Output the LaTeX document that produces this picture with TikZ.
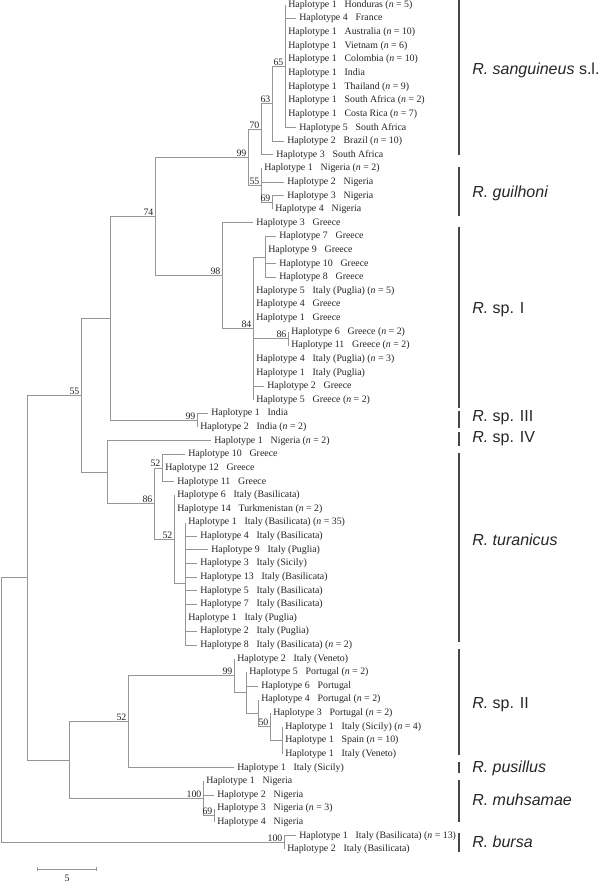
\documentclass[tikz,border=0pt]{standalone}
\usepackage{fontspec}
\setmainfont{Liberation Serif}
\newfontfamily\cladefont{Liberation Sans}
\usetikzlibrary{arrows.meta}

\definecolor{treegray}{RGB}{150,150,150}
\definecolor{bargray}{RGB}{70,70,70}
\definecolor{leafgray}{RGB}{35,35,35}

\newcommand{\hap}[2]{Haplotype #1\hspace{0.8em}#2}
\newcommand{\nn}[1]{(\textit{n} = #1)}

\begin{document}
\begin{tikzpicture}[x=0.75pt, y=-0.75pt,
  branch/.style={draw=treegray, line width=0.7pt},
  leaf/.style={anchor=west, inner xsep=2.25pt, inner ysep=0pt,
    font=\fontsize{7.4}{8}\selectfont, text=leafgray},
  boot/.style={anchor=south east, inner xsep=1pt, inner ysep=0.6pt,
    font=\fontsize{7.4}{8}\selectfont, text=leafgray},
  cladebar/.style={draw=bargray, line width=1.1pt},
  clade/.style={anchor=west, inner sep=0pt,
    font=\cladefont\fontsize{12}{14}\selectfont, text=black!85}]

  \useasboundingbox (0,0) rectangle (600,882);

  % leaves, R. sanguineus s.l.
  \node[leaf] (l1) at (285,5.0) {\hap{1}{Honduras \nn{5}}};
  \node[leaf] (l2) at (296,18.6) {\hap{4}{France}};
  \node[leaf] (l3) at (285,32.2) {\hap{1}{Australia \nn{10}}};
  \node[leaf] (l4) at (285,45.9) {\hap{1}{Vietnam \nn{6}}};
  \node[leaf] (l5) at (285,59.5) {\hap{1}{Colombia \nn{10}}};
  \node[leaf] (l6) at (285,73.1) {\hap{1}{India}};
  \node[leaf] (l7) at (285,86.7) {\hap{1}{Thailand \nn{9}}};
  \node[leaf] (l8) at (285,100.3) {\hap{1}{South Africa \nn{2}}};
  \node[leaf] (l9) at (285,114.0) {\hap{1}{Costa Rica \nn{7}}};
  \node[leaf] (l10) at (296,127.6) {\hap{5}{South Africa}};
  \node[leaf] (l11) at (284,141.2) {\hap{2}{Brazil \nn{10}}};
  \node[leaf] (l12) at (273,154.8) {\hap{3}{South Africa}};
  % R. guilhoni
  \node[leaf] (l13) at (261,168.4) {\hap{1}{Nigeria \nn{2}}};
  \node[leaf] (l14) at (284,182.1) {\hap{2}{Nigeria}};
  \node[leaf] (l15) at (284,195.7) {\hap{3}{Nigeria}};
  \node[leaf] (l16) at (272,209.3) {\hap{4}{Nigeria}};
  % R. sp. I
  \node[leaf] (l17) at (253,222.9) {\hap{3}{Greece}};
  \node[leaf] (l18) at (276,236.5) {\hap{7}{Greece}};
  \node[leaf] (l19) at (265,250.2) {\hap{9}{Greece}};
  \node[leaf] (l20) at (276,263.8) {\hap{10}{Greece}};
  \node[leaf] (l21) at (276,277.4) {\hap{8}{Greece}};
  \node[leaf] (l22) at (253,291.0) {\hap{5}{Italy (Puglia) \nn{5}}};
  \node[leaf] (l23) at (253,304.6) {\hap{4}{Greece}};
  \node[leaf] (l24) at (253,318.3) {\hap{1}{Greece}};
  \node[leaf] (l25) at (288,331.9) {\hap{6}{Greece \nn{2}}};
  \node[leaf] (l26) at (288,345.5) {\hap{11}{Greece \nn{2}}};
  \node[leaf] (l27) at (253,359.1) {\hap{4}{Italy (Puglia) \nn{3}}};
  \node[leaf] (l28) at (253,372.7) {\hap{1}{Italy (Puglia)}};
  \node[leaf] (l29) at (264,386.4) {\hap{2}{Greece}};
  \node[leaf] (l30) at (253,400.0) {\hap{5}{Greece \nn{2}}};
  % R. sp. III, R. sp. IV
  \node[leaf] (l31) at (208,413.6) {\hap{1}{India}};
  \node[leaf] (l32) at (197,427.2) {\hap{2}{India \nn{2}}};
  \node[leaf] (l33) at (211,440.8) {\hap{1}{Nigeria \nn{2}}};
  % R. turanicus
  \node[leaf] (l34) at (185,454.5) {\hap{10}{Greece}};
  \node[leaf] (l35) at (162,468.1) {\hap{12}{Greece}};
  \node[leaf] (l36) at (174,481.7) {\hap{11}{Greece}};
  \node[leaf] (l37) at (174,495.3) {\hap{6}{Italy (Basilicata)}};
  \node[leaf] (l38) at (174,508.9) {\hap{14}{Turkmenistan \nn{2}}};
  \node[leaf] (l39) at (185,522.6) {\hap{1}{Italy (Basilicata) \nn{35}}};
  \node[leaf] (l40) at (197,536.2) {\hap{4}{Italy (Basilicata)}};
  \node[leaf] (l41) at (208,549.8) {\hap{9}{Italy (Puglia)}};
  \node[leaf] (l42) at (197,563.4) {\hap{3}{Italy (Sicily)}};
  \node[leaf] (l43) at (197,577.0) {\hap{13}{Italy (Basilicata)}};
  \node[leaf] (l44) at (197,590.7) {\hap{5}{Italy (Basilicata)}};
  \node[leaf] (l45) at (197,604.3) {\hap{7}{Italy (Basilicata)}};
  \node[leaf] (l46) at (185,617.9) {\hap{1}{Italy (Puglia)}};
  \node[leaf] (l47) at (197,631.5) {\hap{2}{Italy (Puglia)}};
  \node[leaf] (l48) at (197,645.1) {\hap{8}{Italy (Basilicata) \nn{2}}};
  % R. sp. II
  \node[leaf] (l49) at (234,658.8) {\hap{2}{Italy (Veneto)}};
  \node[leaf] (l50) at (246,672.4) {\hap{5}{Portugal \nn{2}}};
  \node[leaf] (l51) at (258,686.0) {\hap{6}{Portugal}};
  \node[leaf] (l52) at (258,699.6) {\hap{4}{Portugal \nn{2}}};
  \node[leaf] (l53) at (270,713.2) {\hap{3}{Portugal \nn{2}}};
  \node[leaf] (l54) at (282,726.9) {\hap{1}{Italy (Sicily) \nn{4}}};
  \node[leaf] (l55) at (282,740.5) {\hap{1}{Spain \nn{10}}};
  \node[leaf] (l56) at (282,754.1) {\hap{1}{Italy (Veneto)}};
  % R. pusillus, R. muhsamae, R. bursa
  \node[leaf] (l57) at (234,767.7) {\hap{1}{Italy (Sicily)}};
  \node[leaf] (l58) at (203,781.3) {\hap{1}{Nigeria}};
  \node[leaf] (l59) at (214,795.0) {\hap{2}{Nigeria}};
  \node[leaf] (l60) at (214,808.6) {\hap{3}{Nigeria \nn{3}}};
  \node[leaf] (l61) at (214,822.2) {\hap{4}{Nigeria}};
  \node[leaf] (l62) at (296,835.8) {\hap{1}{Italy (Basilicata) \nn{13}}};
  \node[leaf] (l63) at (284,849.4) {\hap{2}{Italy (Basilicata)}};

  % internal nodes
  \coordinate (n65) at (285,66.3);
  \coordinate (n63) at (272,103.7);
  \coordinate (n70) at (261,129.3);
  \coordinate (n69g) at (272,202.5);
  \coordinate (n55g) at (261,185.5);
  \coordinate (n99s) at (248,157.4);
  \coordinate (n7) at (265,257.0);
  \coordinate (n86) at (288,338.7);
  \coordinate (n84) at (253,328.5);
  \coordinate (n98) at (222,275.7);
  \coordinate (n74) at (155,216.6);
  \coordinate (n99i) at (197,420.4);
  \coordinate (nA) at (110,318.5);
  \coordinate (n52a) at (162,468.1);
  \coordinate (nE) at (185,583.8);
  \coordinate (n52b) at (174,539.6);
  \coordinate (n86t) at (154,503.8);
  \coordinate (nB) at (107,472.3);
  \coordinate (n55) at (81,395.4);
  \coordinate (nC) at (282,740.5);
  \coordinate (n50) at (270,726.9);
  \coordinate (nBp) at (258,713.2);
  \coordinate (nAp) at (246,692.8);
  \coordinate (n99p) at (234,675.8);
  \coordinate (n52p) at (128,721.8);
  \coordinate (n69m) at (214,815.4);
  \coordinate (n100m) at (203,798.4);
  \coordinate (n69x) at (69,760.1);
  \coordinate (nD) at (27,577.7);
  \coordinate (n100b) at (284,842.6);
  \coordinate (root) at (1.5,710.2);

  % branches
  \foreach \c in {1,...,10} \draw[branch] (n65) |- (l\c.west);
  \draw[branch] (n63) |- (n65) (n63) |- (l11.west);
  \draw[branch] (n70) |- (n63) (n70) |- (l12.west);
  \draw[branch] (n69g) |- (l15.west) (n69g) |- (l16.west);
  \draw[branch] (n55g) |- (l13.west) (n55g) |- (l14.west) (n55g) |- (n69g);
  \draw[branch] (n99s) |- (n70) (n99s) |- (n55g);
  \foreach \c in {18,...,21} \draw[branch] (n7) |- (l\c.west);
  \draw[branch] (n86) |- (l25.west) (n86) |- (l26.west);
  \foreach \c in {22,23,24,27,28,29,30} \draw[branch] (n84) |- (l\c.west);
  \draw[branch] (n84) |- (n7) (n84) |- (n86);
  \draw[branch] (n98) |- (l17.west) (n98) |- (n84);
  \draw[branch] (n74) |- (n99s) (n74) |- (n98);
  \draw[branch] (n99i) |- (l31.west) (n99i) |- (l32.west);
  \draw[branch] (nA) |- (n74) (nA) |- (n99i);
  \foreach \c in {34,35,36} \draw[branch] (n52a) |- (l\c.west);
  \foreach \c in {39,...,48} \draw[branch] (nE) |- (l\c.west);
  \draw[branch] (n52b) |- (l37.west) (n52b) |- (l38.west) (n52b) |- (nE);
  \draw[branch] (n86t) |- (n52a) (n86t) |- (n52b);
  \draw[branch] (nB) |- (l33.west) (nB) |- (n86t);
  \draw[branch] (n55) |- (nA) (n55) |- (nB);
  \foreach \c in {54,55,56} \draw[branch] (nC) |- (l\c.west);
  \draw[branch] (n50) |- (l53.west) (n50) |- (nC);
  \draw[branch] (nBp) |- (l52.west) (nBp) |- (n50);
  \draw[branch] (nAp) |- (l50.west) (nAp) |- (l51.west) (nAp) |- (nBp);
  \draw[branch] (n99p) |- (l49.west) (n99p) |- (nAp);
  \draw[branch] (n52p) |- (n99p) (n52p) |- (l57.west);
  \draw[branch] (n69m) |- (l60.west) (n69m) |- (l61.west);
  \draw[branch] (n100m) |- (l58.west) (n100m) |- (l59.west) (n100m) |- (n69m);
  \draw[branch] (n69x) |- (n52p) (n69x) |- (n100m);
  \draw[branch] (nD) |- (n55) (nD) |- (n69x);
  \draw[branch] (n100b) |- (l62.west) (n100b) |- (l63.west);
  \draw[branch] (root) |- (nD) (root) |- (n100b);

  % bootstrap values
  \node[boot] (b65) at (n65) {65};
  \node[boot] (b63) at (n63) {63};
  \node[boot] (b70) at (n70) {70};
  \node[boot] (b99s) at (n99s) {99};
  \node[boot] (b55g) at (n55g) {55};
  \node[boot] (b69g) at (n69g) {69};
  \node[boot] (b74) at (n74) {74};
  \node[boot] (b98) at (n98) {98};
  \node[boot] (b84) at (n84) {84};
  \node[boot] (b86) at (n86) {86};
  \node[boot] (b99i) at (n99i) {99};
  \node[boot] (b55) at (n55) {55};
  \node[boot] (b52a) at (n52a) {52};
  \node[boot] (b86t) at (n86t) {86};
  \node[boot] (b52b) at (n52b) {52};
  \node[boot] (b99p) at (n99p) {99};
  \node[boot] (b50) at (n50) {50};
  \node[boot] (b52p) at (n52p) {52};
  \node[boot] (b100m) at (n100m) {100};
  \node[boot] (b69m) at (n69m) {69};
  \node[boot] (b100b) at (n100b) {100};

  % species bars
  \draw[cladebar] (459,0) -- (459,155);
  \node[clade] (sang) at (472,70) {\textit{R. sanguineus} s.l.};
  \draw[cladebar] (459,167) -- (459,216);
  \node[clade] (guil) at (472,193) {\textit{R. guilhoni}};
  \draw[cladebar] (459,227) -- (459,408);
  \node[clade] (spI) at (472,310) {\textit{R.} sp. I};
  \draw[cladebar] (459,411) -- (459,428);
  \node[clade] (spIII) at (472,418) {\textit{R.} sp. III};
  \draw[cladebar] (459,432) -- (459,446);
  \node[clade] (spIV) at (472,439) {\textit{R.} sp. IV};
  \draw[cladebar] (459,453) -- (459,642);
  \node[clade] (tura) at (472,540) {\textit{R. turanicus}};
  \draw[cladebar] (459,649) -- (459,755);
  \node[clade] (spII) at (472,705) {\textit{R.} sp. II};
  \draw[cladebar] (459,762) -- (459,773);
  \node[clade] (pusi) at (472,768) {\textit{R. pusillus}};
  \draw[cladebar] (459,780) -- (459,822);
  \node[clade] (muhs) at (472,800) {\textit{R. muhsamae}};
  \draw[cladebar] (459,833) -- (459,852);
  \node[clade] (burs) at (472,842) {\textit{R. bursa}};

  % scale bar
  \coordinate (s0) at (37,869);
  \coordinate (s5) at (97,869);
  \draw[branch, {Bar[width=3pt]}-{Bar[width=3pt]}] (s0) -- (s5);
  \node[boot, anchor=center] (slab) at (67,878.5) {5};
\end{tikzpicture}
\end{document}
